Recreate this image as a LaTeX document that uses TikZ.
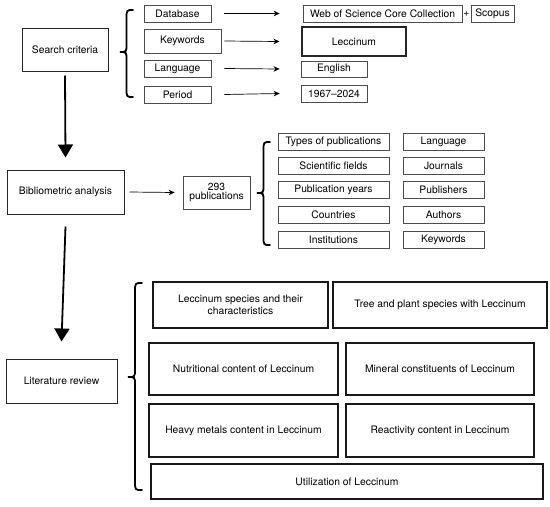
\documentclass[tikz,border=0pt]{standalone}
\usepackage{fontspec}
\setmainfont{TeX Gyre Heros}
\usetikzlibrary{arrows.meta}
\newcommand{\mybrace}[5]{% xr, top, ymid, bot, xl
  \pgfmathsetmacro{\xm}{(#1+#5)/2}
  \draw[bracestyle] (#1,#2) .. controls (\xm,#2) .. (\xm,#2+9) -- (\xm,#3-8)
    .. controls (\xm,#3) .. (#5,#3) .. controls (\xm,#3) .. (\xm,#3+8)
    -- (\xm,#4-9) .. controls (\xm,#4) .. (#1,#4);}
\begin{document}
\begin{tikzpicture}[x=1pt,y=-1pt,
  every node/.style={font=\fontsize{10.3}{11.5}\selectfont, inner sep=1pt, align=center},
  sbox/.style={draw=black!70, line width=0.8pt, minimum width=#1},
  mbox/.style={draw=black!85, line width=1pt},
  bbox/.style={draw=black!90, line width=1.2pt},
  arr/.style={line width=0.7pt, -{Stealth[length=6pt,width=5.5pt]}},
  bigarr/.style={line width=1.8pt, -{Triangle[length=13pt,width=15pt]}},
  bracestyle/.style={line width=1.8pt, line cap=round}]
\useasboundingbox (0,0) rectangle (550,507);

% Search criteria
\node[mbox, minimum width=86, minimum height=43] (sc) at (65,49.5) {Search criteria};
\node[sbox=67, minimum height=17] (db) at (177.5,13.5) {Database};
\node[sbox=77, minimum height=24] (kw) at (182.5,41) {Keywords};
\node[sbox=67, minimum height=17] (lang) at (177.5,68.5) {Language};
\node[sbox=67, minimum height=17] (per) at (177.5,94.5) {Period};
\node[sbox=159, minimum height=17] (wos) at (382.5,13.5) {Web of Science Core Collection};
\node (plus) at (466.5,14) {+};
\node[sbox=43, minimum height=17] (sco) at (492.5,13.5) {Scopus};
\node[draw=black!85, line width=1.1pt, minimum width=104, minimum height=29] (lec) at (354,41.5) {Leccinum};
\node[sbox=66, minimum height=16] (eng) at (334,69) {English};
\node[sbox=66, minimum height=17] (yrs) at (334,93.5) {1967–2024};

\draw[arr] ([xshift=13pt]db.east) -- ([xshift=-23pt]wos.west);
\draw[arr] ([xshift=3pt]kw.east) -- ([xshift=-22pt]lec.west);
\draw[arr] ([xshift=13pt]lang.east) -- ([xshift=-21pt]eng.west);
\draw[arr] ([xshift=13pt]per.east) -- ([xshift=-21pt]yrs.west);

\mybrace{133}{10}{52}{97}{120}

% Bibliometric analysis
\node[mbox, minimum width=117, minimum height=44] (ba) at (65.5,192) {Bibliometric analysis};
\draw[bigarr] ([yshift=-4pt]sc.south) -- ([yshift=12pt]ba.north);
\node[sbox=67, minimum height=33, inner sep=0pt] (pub) at (216.5,192.5) {293\\[-2pt]publications};
\draw[arr] ([xshift=5pt]ba.east) -- ([xshift=-8pt]pub.west);

\mybrace{270}{142}{193}{245}{257}

\foreach \t/\n/\y in {Types of publications/g1/141.5, Scientific fields/g2/165.5, Publication years/g3/189.5, Countries/g4/214.5, Institutions/g5/239.5}
  \node[sbox=111, minimum height=17] (\n) at (333.5,\y) {\t};
\foreach \t/\n/\y in {Language/h1/141.5, Journals/h2/165.5, Publishers/h3/189.5, Authors/h4/214.5, Keywords/h5/239.5}
  \node[sbox=81, minimum height=17] (\n) at (443.5,\y) {\t};

% Literature review
\node[mbox, minimum width=111, minimum height=44] (lr) at (61.5,381) {Literature review};
\draw[bigarr] ([yshift=-12pt]ba.south) -- ([yshift=17pt]lr.north);

\mybrace{142}{283}{377}{490}{128}

\node[bbox, minimum width=175, minimum height=46] (b1) at (240.5,305) {Leccinum species and their\\characteristics};
\node[bbox, minimum width=214, minimum height=46] (b2) at (440,305) {Tree and plant species with Leccinum};
\node[bbox, minimum width=189, minimum height=52] (b3) at (243.5,369) {Nutritional content of Leccinum};
\node[bbox, minimum width=188, minimum height=52] (b4) at (440,369) {Mineral constituents of Leccinum};
\node[bbox, minimum width=189, minimum height=53] (b5) at (243.5,430.5) {Heavy metals content in Leccinum};
\node[bbox, minimum width=188, minimum height=53] (b6) at (440,430.5) {Reactivity content in Leccinum};
\node[bbox, minimum width=392, minimum height=35] (b7) at (347,481.5) {Utilization of Leccinum};
\end{tikzpicture}
\end{document}
